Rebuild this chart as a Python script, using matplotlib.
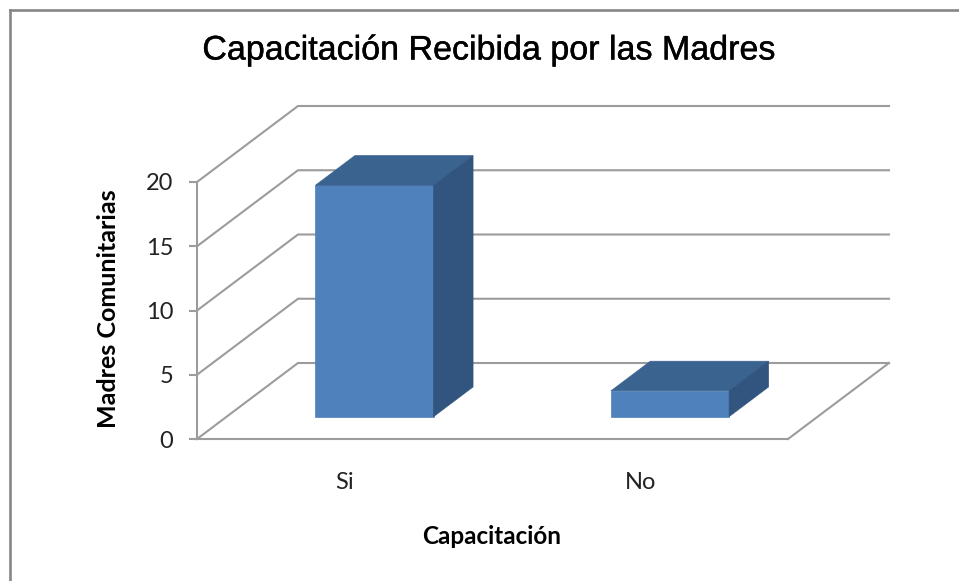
import matplotlib
matplotlib.use("Agg")
import matplotlib.pyplot as plt
import matplotlib.patheffects as pe
from matplotlib.patches import Polygon

W, H = 959, 581

categories = ["Si", "No"]
values = [18, 2]
y_ticks = [0, 5, 10, 15, 20]

title = "Capacitación Recibida por las Madres"
x_label = "Capacitación"
y_label = "Madres Comunitarias"

GRID = "#9c9c9c"
FRONT = "#4f81bd"
TOP = "#3b6390"
SIDE = "#31557f"

fig = plt.figure(figsize=(W / 100, H / 100), dpi=100)
fig.patch.set_facecolor("white")

# front plane of the fake 3d box, in figure pixels
left, right, bottom, top = 197, 788, 439, 182
ax = fig.add_axes([left / W, 1 - bottom / H, (right - left) / W, (bottom - top) / H])
ax.set_xlim(-0.5, 1.5)
ax.set_ylim(0, 20)
ax.patch.set_alpha(0)

px_x = (right - left) / 2
px_y = (bottom - top) / 20
depth_x, depth_y = 101, 76


def proj(x, y, d):
    # d = 0 front of the box, d = 1 back wall
    return (x + d * depth_x / px_x, y + d * depth_y / px_y)


# walls and gridlines
for v in y_ticks:
    p0 = proj(-0.5, v, 0)
    p1 = proj(-0.5, v, 1)
    p2 = proj(1.5, v, 1)
    ax.plot([p0[0], p1[0], p2[0]], [p0[1], p1[1], p2[1]], color=GRID, lw=1.5,
            clip_on=False, solid_joinstyle="miter", zorder=1)
p0 = proj(1.5, 0, 0)
p1 = proj(1.5, 0, 1)
ax.plot([p0[0], p1[0]], [p0[1], p1[1]], color=GRID, lw=1.5, clip_on=False, zorder=1)

# bars
bar_w = 0.4
d0, d1 = 0.295, 0.685
for i, v in enumerate(values):
    x0, x1 = i - bar_w / 2, i + bar_w / 2
    faces = [
        ([proj(x0, 0, d0), proj(x1, 0, d0), proj(x1, v, d0), proj(x0, v, d0)], FRONT),
        ([proj(x0, v, d0), proj(x1, v, d0), proj(x1, v, d1), proj(x0, v, d1)], TOP),
        ([proj(x1, 0, d0), proj(x1, 0, d1), proj(x1, v, d1), proj(x1, v, d0)], SIDE),
    ]
    for pts, c in faces:
        ax.add_patch(Polygon(pts, closed=True, facecolor=c, edgecolor=c, lw=0.5,
                             clip_on=False, zorder=3))

for s in ["top", "right"]:
    ax.spines[s].set_visible(False)
for s in ["left", "bottom"]:
    ax.spines[s].set_color(GRID)
    ax.spines[s].set_linewidth(1.5)

ax.set_yticks(y_ticks)
ax.set_xticks(range(len(categories)))
ax.set_xticklabels(categories)
ax.tick_params(axis="y", length=6, width=1.5, color=GRID, labelsize=17, labelcolor="#222222", pad=11)
ax.tick_params(axis="x", length=0, labelsize=17, labelcolor="#222222", pad=24)
for lab in ax.get_xticklabels() + ax.get_yticklabels():
    lab.set_family("Lato")

fig.text(489 / W, 1 - 51 / H, title, ha="center", va="center", family="Liberation Sans",
         fontsize=24.5, color="black",
         path_effects=[pe.withStroke(linewidth=0.3, foreground="black")])
fig.text(492 / W, 1 - 536 / H, x_label, ha="center", va="center", family="Lato",
         fontweight="bold", fontsize=17.5, color="black")
fig.text(108 / W, 1 - 309 / H, y_label, ha="center", va="center", rotation=90, family="Lato",
         fontweight="bold", fontsize=18, color="black")

# chart area border, only top and left are in the crop
fig.add_artist(plt.Line2D([9.5 / W, 9.5 / W], [0, 1 - 9.5 / H], color="#868686", lw=1.9))
fig.add_artist(plt.Line2D([9.5 / W, 1], [1 - 9.5 / H, 1 - 9.5 / H], color="#868686", lw=1.9))

fig.savefig("out.png", dpi=100)
